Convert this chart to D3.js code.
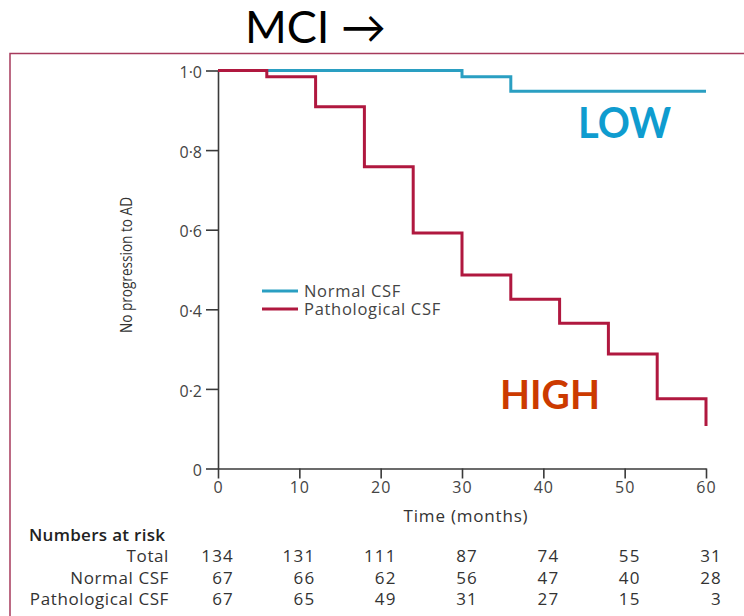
<!DOCTYPE html>
<html>
<head>
<meta charset="utf-8">
<script src="https://cdn.jsdelivr.net/npm/d3@7"></script>
<style>
  body { margin: 0; background: #fff; }
</style>
</head>
<body>
<div id="wrapper"></div>
<script>
// Kaplan-Meier steps
const normalMonths = [0, 30, 36, 60]
const normalSurvival = [1.0, 0.984, 0.948, 0.948]
const pathMonths = [0, 6, 12, 18, 24, 30, 36, 42, 48, 54, 60]
const pathSurvival = [1.0, 0.984, 0.909, 0.758, 0.592, 0.486, 0.425, 0.365, 0.288, 0.175, 0.107]

// axis ticks
const xTicks = [0, 10, 20, 30, 40, 50, 60]
const yTicks = [0, 0.2, 0.4, 0.6, 0.8, 1.0]

// numbers at risk table
const riskLabels = ["Total", "Normal CSF", "Pathological CSF"]
const riskTotal = [134, 131, 111, 87, 74, 55, 31]
const riskNormal = [67, 66, 62, 56, 47, 40, 28]
const riskPath = [67, 65, 49, 31, 27, 15, 3]

const seriesNames = ["Normal CSF", "Pathological CSF"]

function drawChart() {
    const dims = {
        width: 744,
        height: 616,
        margin: { top: 70.5, right: 38, bottom: 147.5, left: 218 },
    }
    dims.boundWidth = dims.width - dims.margin.left - dims.margin.right
    dims.boundHeight = dims.height - dims.margin.top - dims.margin.bottom

    const teal = "#2a9fc2"
    const crimson = "#b0183f"
    const axisGrey = "#3a3a3a"
    const textGrey = "#444"
    const chartFont = "'Open Sans', 'Noto Sans', sans-serif"

    const svg = d3.select("#wrapper")
        .append("svg")
            .attr("width", dims.width)
            .attr("height", dims.height)
            .style("display", "block")

    // slide title
    svg.append("text")
        .attr("x", 245)
        .attr("y", 43)
        .attr("font-family", "Lato, sans-serif")
        .attr("font-size", 45)
        .attr("fill", "#000")
        .text("MCI \u2192")

    // picture frame, runs off the right and bottom edges
    svg.append("rect")
        .attr("x", 10)
        .attr("y", 53.5)
        .attr("width", 760)
        .attr("height", 600)
        .attr("fill", "none")
        .attr("stroke", "#a63a5c")
        .attr("stroke-width", 1.5)

    const bound = svg.append("g")
        .attr("transform", `translate(${dims.margin.left},${dims.margin.top})`)

    const xScale = d3.scaleLinear()
        .domain([0, 60])
        .range([0, dims.boundWidth])

    const yScale = d3.scaleLinear()
        .domain([0, 1])
        .range([dims.boundHeight, 0])

    // axes
    const xAxis = d3.axisBottom(xScale)
        .tickValues(xTicks)
        .tickSize(10)
        .tickSizeOuter(0)
        .tickPadding(3)
    const yAxis = d3.axisLeft(yScale)
        .tickValues(yTicks)
        .tickSize(12)
        .tickSizeOuter(0)
        .tickPadding(4)
        .tickFormat(d => d === 0 ? "0" : d3.format(".1f")(d).replace(".", "\u00b7"))

    const xAxisGroup = bound.append("g")
        .attr("transform", `translate(0,${dims.boundHeight})`)
        .call(xAxis)
    const yAxisGroup = bound.append("g")
        .call(yAxis)

    ;[xAxisGroup, yAxisGroup].forEach(g => {
        g.select(".domain").attr("stroke", axisGrey).attr("stroke-width", 1.6)
        g.selectAll(".tick line").attr("stroke", axisGrey).attr("stroke-width", 1.6)
        g.selectAll(".tick text")
            .attr("fill", textGrey)
            .attr("font-family", chartFont)
            .attr("font-size", 16)
    })
    xAxisGroup.selectAll(".tick text").attr("letter-spacing", 1)
    yAxisGroup.selectAll(".tick text").attr("dy", "0.45em")

    // axis titles
    bound.append("text")
        .attr("x", xScale(30) + 4)
        .attr("y", dims.boundHeight + 53)
        .attr("text-anchor", "middle")
        .attr("font-family", chartFont)
        .attr("font-size", 17)
        .attr("letter-spacing", 0.8)
        .attr("fill", "#333")
        .text("Time (months)")

    bound.append("text")
        .attr("transform", `translate(${132 - dims.margin.left},${265 - dims.margin.top}) rotate(-90)`)
        .attr("text-anchor", "middle")
        .attr("font-family", chartFont)
        .attr("font-size", 16)
        .attr("textLength", 136)
        .attr("lengthAdjust", "spacingAndGlyphs")
        .attr("fill", "#333")
        .text("No progression to AD")

    // survival curves
    const line = d3.line()
        .x(d => xScale(d[0]))
        .y(d => yScale(d[1]))
        .curve(d3.curveStepAfter)

    bound.append("path")
        .datum(d3.zip(normalMonths, normalSurvival))
        .attr("d", line)
        .attr("fill", "none")
        .attr("stroke", teal)
        .attr("stroke-width", 3)

    bound.append("path")
        .datum(d3.zip(pathMonths, pathSurvival))
        .attr("d", line)
        .attr("fill", "none")
        .attr("stroke", crimson)
        .attr("stroke-width", 3)

    // legend
    const legend = bound.append("g")
        .attr("transform", `translate(${262 - dims.margin.left},${291 - dims.margin.top})`)
    const legendItems = legend.selectAll("g")
        .data(seriesNames)
        .join("g")
            .attr("transform", (d, i) => `translate(0,${i * 18})`)
    legendItems.append("line")
        .attr("x1", 0)
        .attr("x2", 36)
        .attr("stroke", (d, i) => i === 0 ? teal : crimson)
        .attr("stroke-width", 3)
    legendItems.append("text")
        .attr("x", 42)
        .attr("dy", "0.36em")
        .attr("font-family", chartFont)
        .attr("font-size", 16.5)
        .attr("letter-spacing", 0.7)
        .attr("fill", textGrey)
        .text(d => d)

    // LOW / HIGH callouts
    svg.append("text")
        .attr("x", 578)
        .attr("y", 138)
        .attr("font-family", "Lato, sans-serif")
        .attr("font-weight", "bold")
        .attr("font-size", 42)
        .attr("textLength", 93)
        .attr("lengthAdjust", "spacingAndGlyphs")
        .attr("fill", "#0f9ccf")
        .text("LOW")

    svg.append("text")
        .attr("x", 500)
        .attr("y", 409)
        .attr("font-family", "Lato, sans-serif")
        .attr("font-weight", "bold")
        .attr("font-size", 41)
        .attr("textLength", 100)
        .attr("lengthAdjust", "spacingAndGlyphs")
        .attr("fill", "#cc3a00")
        .text("HIGH")

    // numbers at risk
    svg.append("text")
        .attr("x", 29)
        .attr("y", 541)
        .attr("font-family", chartFont)
        .attr("font-weight", 600)
        .attr("font-size", 17)
        .attr("letter-spacing", 0.3)
        .attr("fill", "#222")
        .text("Numbers at risk")

    const riskRows = [riskTotal, riskNormal, riskPath]
    const rowY = [562, 584, 605]

    riskRows.forEach((row, r) => {
        svg.append("text")
            .attr("x", 169)
            .attr("y", rowY[r])
            .attr("text-anchor", "end")
            .attr("font-family", chartFont)
            .attr("font-size", 17)
            .attr("letter-spacing", 0.6)
            .attr("fill", "#333")
            .text(riskLabels[r])

        svg.append("g")
            .selectAll("text")
            .data(row)
            .join("text")
                .attr("x", (d, i) => dims.margin.left + xScale(xTicks[i]) + 16)
                .attr("y", rowY[r])
                .attr("text-anchor", "end")
                .attr("font-family", chartFont)
                .attr("font-size", 17)
                .attr("letter-spacing", 1.2)
                .attr("fill", "#333")
                .text(d => d)
    })
}

drawChart()
</script>
</body>
</html>
